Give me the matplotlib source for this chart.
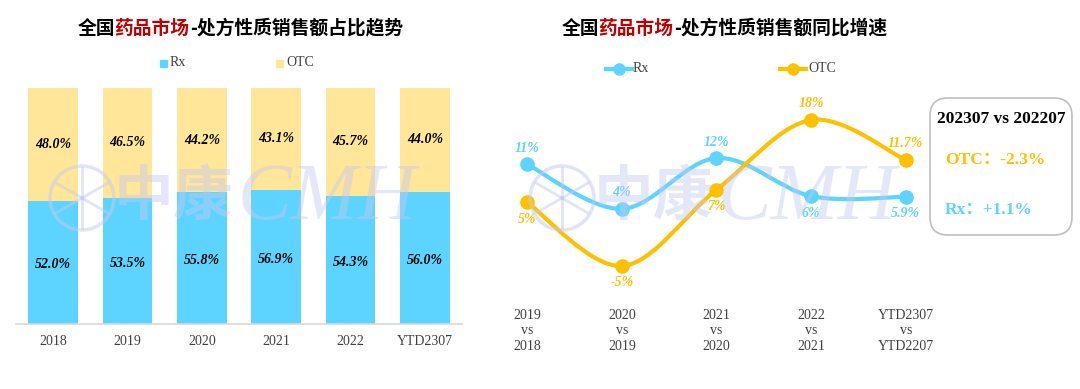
import math

import matplotlib
matplotlib.use("Agg")
import matplotlib.pyplot as plt
from matplotlib.path import Path
from matplotlib.patches import PathPatch, FancyBboxPatch, Circle, Rectangle
from matplotlib.lines import Line2D

plt.rcParams["font.family"] = ["Liberation Serif", "Noto Sans CJK SC"]

# ---- data ----------------------------------------------------------------
years = ["2018", "2019", "2020", "2021", "2022", "YTD2307"]
rx_share = [52.0, 53.5, 55.8, 56.9, 54.3, 56.0]
otc_share = [48.0, 46.5, 44.2, 43.1, 45.7, 44.0]

periods = ["2019\nvs\n2018", "2020\nvs\n2019", "2021\nvs\n2020",
           "2022\nvs\n2021", "YTD2307\nvs\nYTD2207"]
rx_growth = [11, 4, 12, 6, 5.9]
otc_growth = [5, -5, 7, 18, 11.7]
rx_labels = ["11%", "4%", "12%", "6%", "5.9%"]
otc_labels = ["5%", "-5%", "7%", "18%", "11.7%"]
rx_label_pos = ["above", "above", "above", "below", "below"]
otc_label_pos = ["below", "below", "below", "above", "above"]

RX_BAR = "#5dd3ff"
OTC_BAR = "#ffe699"
RX_LINE = "#5dd3ff"
OTC_LINE = "#ffc000"
RED = "#c00000"
W, H = 1080, 389

fig = plt.figure(figsize=(W / 100, H / 100), dpi=100)
fig.patch.set_facecolor("white")
IN = fig.dpi_scale_trans


def px(x, y):
    return x / 100, (H - y) / 100


def fbox(x0, y0, x1, y1):
    return [x0 / W, 1 - y1 / H, (x1 - x0) / W, (y1 - y0) / H]


# ---- titles with coloured middle part ------------------------------------
def title(cx, cy, parts):
    r = fig.canvas.get_renderer()
    texts, total = [], 0
    for s, c in parts:
        t = fig.text(0, 0, s, color=c, fontsize=13.5, fontweight="black",
                     family=["Noto Sans CJK SC", "DejaVu Sans"],
                     transform=IN, va="center", ha="left")
        w = t.get_window_extent(renderer=r).width
        texts.append((t, w))
        total += w
    x = cx - total / 2
    for t, w in texts:
        t.set_position(px(x, cy))
        x += w


title(240, 28, [("全国", "black"), ("药品市场", RED), ("-处方性质销售额占比趋势", "black")])
title(724, 28, [("全国", "black"), ("药品市场", RED), ("-处方性质销售额同比增速", "black")])

# ---- left: stacked share bars --------------------------------------------
ax1 = fig.add_axes(fbox(16, 88, 462, 324))
xs = list(range(len(years)))
ax1.bar(xs, rx_share, width=0.67, color=RX_BAR, zorder=2)
ax1.bar(xs, otc_share, width=0.67, bottom=rx_share, color=OTC_BAR, zorder=2)
for x, r, o in zip(xs, rx_share, otc_share):
    ax1.text(x, r / 2 - 1, f"{r:.1f}%", ha="center", va="center", fontsize=10,
             fontweight="bold", style="italic", color="black", zorder=3)
    ax1.text(x, r + o / 2, f"{o:.1f}%", ha="center", va="center", fontsize=10,
             fontweight="bold", style="italic", color="black", zorder=3)
ax1.set_xlim(-0.5, len(years) - 0.5)
ax1.set_ylim(0, 100)
ax1.set_xticks(xs, years, fontsize=10, color="#404040")
ax1.tick_params(axis="x", length=0, pad=8)
ax1.set_yticks([])
for s in ("top", "right", "left"):
    ax1.spines[s].set_visible(False)
ax1.spines["bottom"].set_color("#d9d9d9")
ax1.spines["bottom"].set_linewidth(1.2)

# legend (left)
fig.add_artist(Rectangle(px(160, 67), 0.07, 0.07, color=RX_BAR, transform=IN))
fig.text(*px(170, 63), "Rx", fontsize=10, color="#404040", va="center", transform=IN)
fig.add_artist(Rectangle(px(276, 67), 0.07, 0.07, color=OTC_BAR, transform=IN))
fig.text(*px(286, 63), "OTC", fontsize=10, color="#404040", va="center", transform=IN)

# ---- right: smooth growth lines ------------------------------------------
ax2 = fig.add_axes(fbox(480, 94.6, 953, 297.7))
ax2.set_xlim(-0.5, len(periods) - 0.5)
ax2.set_ylim(-10, 22)
ax2.axis("off")


def smooth_path(xv, yv):
    pts = list(zip(xv, yv))
    verts = [pts[0]]
    codes = [Path.MOVETO]
    n = len(pts)
    for i in range(n - 1):
        p0 = pts[i - 1] if i > 0 else pts[i]
        p1, p2 = pts[i], pts[i + 1]
        p3 = pts[i + 2] if i + 2 < n else pts[i + 1]
        c1 = (p1[0] + (p2[0] - p0[0]) / 6, p1[1] + (p2[1] - p0[1]) / 6)
        c2 = (p2[0] - (p3[0] - p1[0]) / 6, p2[1] - (p3[1] - p1[1]) / 6)
        verts += [c1, c2, p2]
        codes += [Path.CURVE4] * 3
    return Path(verts, codes)


idx = list(range(len(periods)))
for vals, labs, pos, col in ((rx_growth, rx_labels, rx_label_pos, RX_LINE),
                             (otc_growth, otc_labels, otc_label_pos, OTC_LINE)):
    ax2.add_patch(PathPatch(smooth_path(idx, vals), fill=False, ec=col, lw=3,
                            capstyle="round", zorder=2))
    ax2.scatter(idx, vals, s=90, color=col, zorder=3)
    for x, v, lab, p in zip(idx, vals, labs, pos):
        off = 16 if p == "above" else -17
        ax2.annotate(lab, (x, v), xytext=(0, off), textcoords="offset pixels",
                     ha="center", va="center", fontsize=10, fontweight="bold",
                     style="italic", color=col, zorder=4)

for x, lab in zip(idx, periods):
    ax2.text(x, -0.055, lab, transform=ax2.get_xaxis_transform(), ha="center", va="top",
             fontsize=10, color="#404040", linespacing=1.25)

# legend (right)
fig.add_artist(Line2D([6.06, 6.32], [(H - 69) / 100] * 2, color=RX_LINE, lw=3, transform=IN))
fig.add_artist(Line2D([6.19], [(H - 69) / 100], color=RX_LINE, marker="o", ms=8, transform=IN))
fig.text(*px(633, 69), "Rx", fontsize=10, color="#404040", va="center", transform=IN)
fig.add_artist(Line2D([7.80, 8.06], [(H - 69) / 100] * 2, color=OTC_LINE, lw=3, transform=IN))
fig.add_artist(Line2D([7.93], [(H - 69) / 100], color=OTC_LINE, marker="o", ms=8, transform=IN))
fig.text(*px(808, 69), "OTC", fontsize=10, color="#404040", va="center", transform=IN)

# ---- summary box ---------------------------------------------------------
fig.add_artist(FancyBboxPatch(px(930, 235), 1.42, 1.37,
                              boxstyle="round,pad=0,rounding_size=0.18",
                              fc="white", ec="#bfbfbf", lw=1.2, transform=IN))
fig.text(*px(1001, 119), "202307 vs 202207", fontsize=12.5, fontweight="bold",
         ha="center", va="center", transform=IN)
fig.text(*px(945, 160), "OTC：-2.3%", fontsize=12.5, fontweight="bold", color=OTC_LINE,
         ha="left", va="center", transform=IN)
fig.text(*px(945, 210), "Rx：+1.1%", fontsize=12.5, fontweight="bold", color=RX_LINE,
         ha="left", va="center", transform=IN)

# ---- watermarks ----------------------------------------------------------
WM = "#c5cbf0"
for cx, tx in ((82, 114), (562, 594)):
    fig.add_artist(Circle(px(cx, 198), 0.32, fill=False, ec=WM, lw=2.5, alpha=0.5,
                          transform=IN))
    for k in range(6):
        a = math.pi / 6 + k * math.pi / 3
        fig.add_artist(Line2D([cx / 100, (cx + 30 * math.cos(a)) / 100],
                              [(H - 198) / 100, (H - 198 - 30 * math.sin(a)) / 100],
                              color=WM, lw=2, alpha=0.5, transform=IN))
    fig.text(*px(tx, 198), "中康", fontsize=43, color=WM, alpha=0.45,
             fontweight="bold", family=["Noto Sans CJK SC", "DejaVu Sans"],
             va="center", ha="left", transform=IN, zorder=10)
    fig.text(*px(tx + 124, 200), "CMH", fontsize=58, color=WM, alpha=0.45,
             style="italic", family="Liberation Serif",
             va="center", ha="left", transform=IN, zorder=10)

fig.savefig("out.png", dpi=100)
